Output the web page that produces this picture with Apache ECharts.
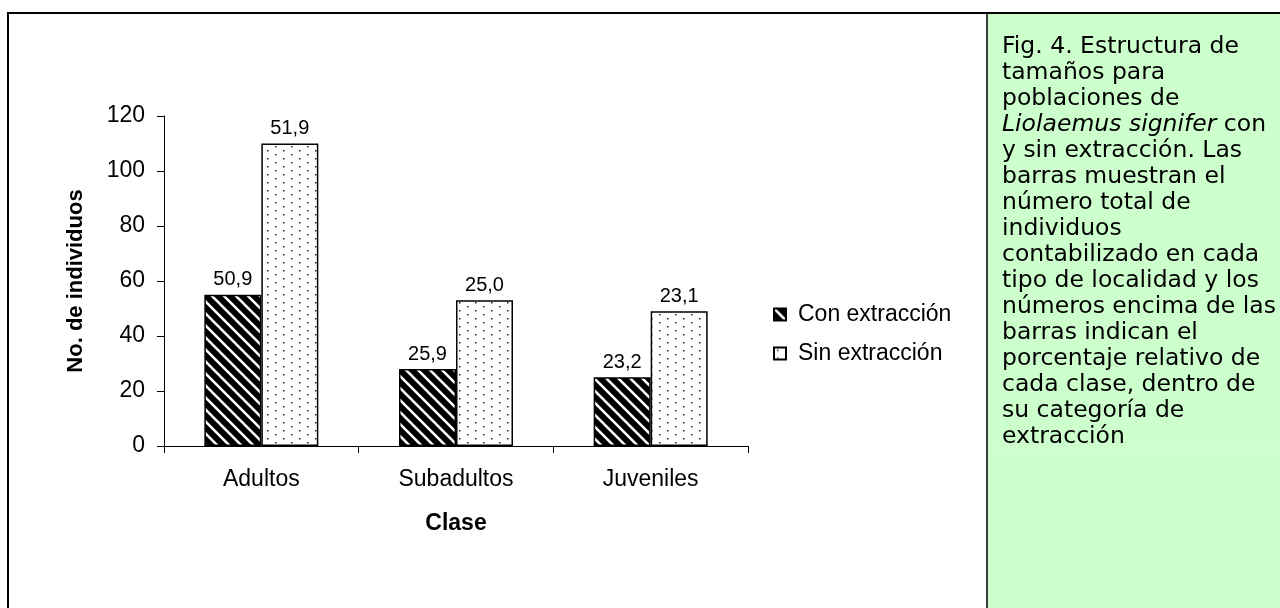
<!DOCTYPE html>
<html>
<head>
<meta charset="utf-8">
<script src="https://cdn.jsdelivr.net/npm/echarts@6/dist/echarts.min.js"></script>
<style>
html,body{margin:0;padding:0;background:#fff;}
#c{width:1280px;height:608px;}
</style>
</head>
<body>
<div id="c"></div>
<script>
// ---- data ----
const categories = ['Adultos', 'Subadultos', 'Juveniles'];
const seriesNames = ['Con extracción', 'Sin extracción'];
const conValues = [55, 28, 25];
const sinValues = [110, 53, 49];
const conPercents = ['50,9', '25,9', '23,2'];
const sinPercents = ['51,9', '25,0', '23,1'];
const yTicks = [0, 20, 40, 60, 80, 100, 120];
const captionLines = [
  'Fig. 4. Estructura de',
  'tamaños para',
  'poblaciones de',
  '{i|Liolaemus signifer} con',
  'y sin extracción. Las',
  'barras muestran el',
  'número total de',
  'individuos',
  'contabilizado en cada',
  'tipo de localidad y los',
  'números encima de las',
  'barras indican el',
  'porcentaje relativo de',
  'cada clase, dentro de',
  'su categoría de',
  'extracción'
];

// ---- patterns ----
function stripePattern() {
  const c = document.createElement('canvas');
  c.width = 12; c.height = 12;
  const g = c.getContext('2d');
  g.fillStyle = '#000'; g.fillRect(0, 0, 12, 12);
  g.strokeStyle = '#fff'; g.lineWidth = 2.6;
  g.beginPath();
  g.moveTo(-6, -6); g.lineTo(18, 18);
  g.moveTo(-18, -6); g.lineTo(6, 18);
  g.moveTo(6, -6); g.lineTo(30, 18);
  g.stroke();
  return c;
}
function dotPattern() {
  const c = document.createElement('canvas');
  c.width = 16; c.height = 8;
  const g = c.getContext('2d');
  g.fillStyle = '#fff'; g.fillRect(0, 0, 16, 8);
  g.fillStyle = '#222';
  g.fillRect(3, 2, 1.5, 1.5);
  g.fillRect(11, 6, 1.5, 1.5);
  return c;
}

const font = '"Liberation Sans", Arial, sans-serif';
const capFont = '"DejaVu Sans", Verdana, sans-serif';
const chart = echarts.init(document.getElementById('c'), null, {renderer: 'canvas'});

const option = {
  animation: false,
  backgroundColor: '#fff',
  textStyle: {fontFamily: font, color: '#000'},
  grid: {left: 164, right: 532, top: 116, bottom: 162, containLabel: false},
  legend: {
    orient: 'vertical',
    left: 768, top: 298,
    itemWidth: 12, itemHeight: 12, itemGap: 16,
    data: seriesNames,
    textStyle: {fontFamily: font, fontSize: 23, color: '#000', padding: [0, 0, 0, 7]},
    icon: 'rect'
  },
  xAxis: {
    type: 'category',
    data: categories,
    name: 'Clase',
    nameLocation: 'middle',
    nameGap: 66,
    nameTextStyle: {fontFamily: font, fontSize: 23, fontWeight: 'bold', color: '#000'},
    axisLine: {lineStyle: {color: '#000', width: 1}},
    axisTick: {show: true, length: 7, lineStyle: {color: '#000'}},
    axisLabel: {fontFamily: font, fontSize: 23, color: '#000', margin: 22}
  },
  yAxis: {
    type: 'value',
    min: 0, max: 120, interval: 20,
    name: 'No. de individuos',
    nameLocation: 'middle',
    nameGap: 77,
    nameRotate: 90,
    nameTextStyle: {fontFamily: font, fontSize: 22, fontWeight: 'bold', color: '#000'},
    axisLine: {show: true, lineStyle: {color: '#000', width: 1}},
    axisTick: {show: true, length: 7, lineStyle: {color: '#000'}},
    axisLabel: {fontFamily: font, fontSize: 23, color: '#000', margin: 19,
      formatter: function (v) { return yTicks.indexOf(v) >= 0 ? String(v) : ''; }},
    splitLine: {show: false}
  },
  series: [
    {
      name: seriesNames[0], type: 'bar', barWidth: 57, barGap: '0%',
      data: conValues,
      itemStyle: {color: {image: stripePattern(), repeat: 'repeat'}, borderColor: '#000', borderWidth: 1.5},
      label: {show: true, position: 'top', distance: 5, fontFamily: font, fontSize: 20, color: '#000',
        formatter: function (p) { return conPercents[p.dataIndex]; }}
    },
    {
      name: seriesNames[1], type: 'bar', barWidth: 57, barGap: '0%',
      data: sinValues,
      itemStyle: {color: {image: dotPattern(), repeat: 'repeat'}, borderColor: '#000', borderWidth: 1.5},
      label: {show: true, position: 'top', distance: 5, fontFamily: font, fontSize: 20, color: '#000',
        formatter: function (p) { return sinPercents[p.dataIndex]; }}
    }
  ],
  graphic: [
    {type: 'rect', z: -10, shape: {x: 987, y: 13, width: 300, height: 600}, style: {fill: '#ccffcc'}, silent: true},
    {type: 'line', shape: {x1: 987, y1: 448, x2: 1280, y2: 448}, style: {stroke: '#d6ffd6', lineWidth: 1}, silent: true},
    {type: 'line', shape: {x1: 8, y1: 13, x2: 1280, y2: 13}, style: {stroke: '#000', lineWidth: 2}, silent: true},
    {type: 'line', shape: {x1: 8, y1: 12, x2: 8, y2: 608}, style: {stroke: '#000', lineWidth: 2}, silent: true},
    {type: 'line', shape: {x1: 987, y1: 13, x2: 987, y2: 608}, style: {stroke: '#000', lineWidth: 1.5}, silent: true},
    {
      type: 'text', left: 1002, top: 34, silent: true,
      style: {
        text: captionLines.join('\n'),
        fontFamily: capFont,
        fontSize: 23.5, lineHeight: 26, fill: '#000',
        rich: {i: {fontStyle: 'italic', fontFamily: capFont, fontSize: 23.5, lineHeight: 26}}
      }
    }
  ]
};
chart.setOption(option);
</script>
</body>
</html>
